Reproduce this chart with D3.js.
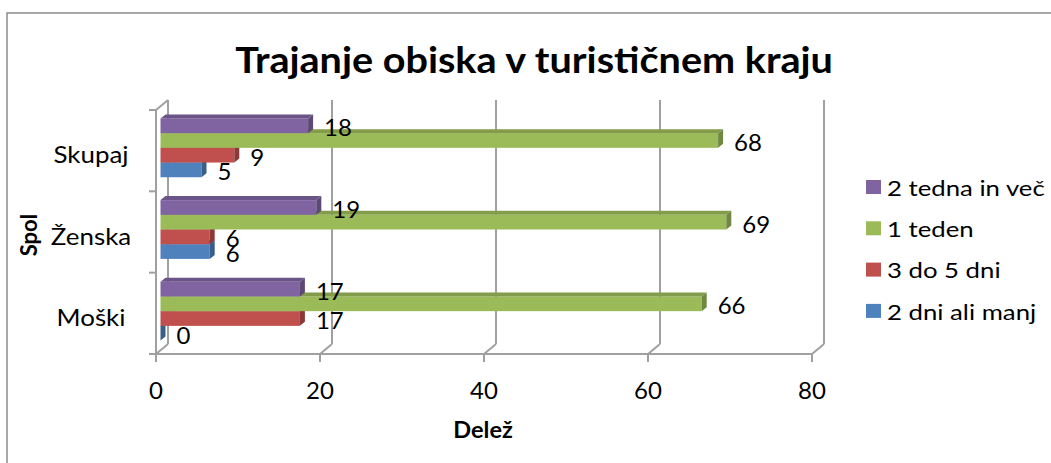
<!DOCTYPE html>
<html>
<head>
<meta charset="utf-8">
<script src="https://cdn.jsdelivr.net/npm/d3@7"></script>
<style>
body{margin:0;background:#fff;}
svg text{font-family:Lato, "Open Sans", sans-serif;fill:#000;}
</style>
</head>
<body>
<div id="chart"></div>
<script>
var categories = ["Skupaj", "Ženska", "Moški"];
var series = ["2 tedna in več", "1 teden", "3 do 5 dni", "2 dni ali manj"];
var tedna2 = [18, 19, 17];
var teden1 = [68, 69, 66];
var dni3do5 = [9, 6, 17];
var dni2 = [5, 6, 0];
var xTicks = [0, 20, 40, 60, 80];
var colors = ["#8064A2", "#9BBB59", "#C0504D", "#4F81BD"];

var data = categories.map(function(c, i){
  return {cat: c, values: [tedna2[i], teden1[i], dni3do5[i], dni2[i]]}
})

var width = 1051, height = 463;
var depth = {x: 12, y: -10};   // front -> back wall
var barDepth = {x: 5, y: -4};  // bar thickness
var barShift = 4.5;             // bars sit a bit behind the front plane

var svg = d3.select("#chart").append("svg")
  .attr("width", width)
  .attr("height", height)

// text is a little wider than Lato, stretch it horizontally
function place(x, y, sx){
  return "translate(" + x + "," + y + ") scale(" + sx + ",1)"
}

// chart frame
svg.append("rect")
  .attr("x", 7).attr("y", 13)
  .attr("width", 1100).attr("height", 500)
  .attr("fill", "none")
  .attr("stroke", "#8c8c8c")
  .attr("stroke-width", 1.5)

svg.append("text")
  .attr("transform", place(534, 73, 1.07))
  .attr("text-anchor", "middle")
  .style("font-size", "37px")
  .style("font-weight", "bold")
  .text("Trajanje obiska v turističnem kraju")

var x = d3.scaleLinear().domain([0, 80]).range([156, 812]);
var yFront = d3.scaleBand().domain(categories).range([110, 354]);
var yBar = d3.scaleBand().domain(categories).range([107, 352]).paddingInner(0.28).paddingOuter(0.14);
var ySub = d3.scaleBand().domain(series).range([0, yBar.bandwidth()]);
var color = d3.scaleOrdinal().domain(series).range(colors);

var grid = svg.append("g")
  .attr("stroke", "#a0a0a0")
  .attr("stroke-width", 2)
  .attr("fill", "none")

var yTop = yFront.range()[0], yBot = yFront.range()[1];

// back wall gridlines
grid.selectAll(".vline")
  .data(xTicks)
  .enter()
  .append("line")
  .attr("x1", function(d){return x(d) + depth.x})
  .attr("x2", function(d){return x(d) + depth.x})
  .attr("y1", yTop + depth.y)
  .attr("y2", yBot + depth.y)

// floor diagonals
grid.selectAll(".diag")
  .data(xTicks)
  .enter()
  .append("line")
  .attr("x1", function(d){return x(d)})
  .attr("x2", function(d){return x(d) + depth.x})
  .attr("y1", yBot)
  .attr("y2", yBot + depth.y)

// value axis ticks
grid.selectAll(".tick")
  .data(xTicks)
  .enter()
  .append("line")
  .attr("x1", function(d){return x(d)})
  .attr("x2", function(d){return x(d)})
  .attr("y1", yBot)
  .attr("y2", yBot + 8)

grid.append("line")
  .attr("x1", 149).attr("x2", x(80))
  .attr("y1", yBot).attr("y2", yBot)

// left wall front edge
grid.append("line")
  .attr("x1", x(0)).attr("x2", x(0))
  .attr("y1", yTop).attr("y2", yBot)
grid.append("line")
  .attr("x1", x(0)).attr("x2", x(0) + depth.x)
  .attr("y1", yTop).attr("y2", yTop + depth.y)

var edges = categories.map(function(c){return yFront(c)}).concat([yBot]);
grid.selectAll(".ctick")
  .data(edges)
  .enter()
  .append("line")
  .attr("x1", x(0) - 7).attr("x2", x(0))
  .attr("y1", function(d){return d})
  .attr("y2", function(d){return d})

// bars, drawn bottom series first so upper bars hide the tops below
var bars = [];
data.forEach(function(d){
  for (var i = series.length - 1; i >= 0; i--) {
    bars.push({cat: d.cat, s: series[i], v: d.values[i]})
  }
})

var bx = function(v){return x(v) + barShift};

var barG = svg.selectAll(".bar")
  .data(bars)
  .enter()
  .append("g")
  .attr("class", "bar")

barG.append("rect")
  .attr("x", bx(0))
  .attr("y", function(d){return yBar(d.cat) + ySub(d.s)})
  .attr("width", function(d){return bx(d.v) - bx(0)})
  .attr("height", ySub.bandwidth())
  .attr("fill", function(d){return color(d.s)})

barG.append("polygon")
  .attr("points", function(d){
    var x1 = bx(d.v), y0 = yBar(d.cat) + ySub(d.s), h = ySub.bandwidth();
    return [[x1, y0], [x1 + barDepth.x, y0 + barDepth.y], [x1 + barDepth.x, y0 + h + barDepth.y], [x1, y0 + h]].join(" ")
  })
  .attr("fill", function(d){return d3.color(color(d.s)).darker(0.9)})

barG.append("polygon")
  .attr("points", function(d){
    var x0 = bx(0), x1 = bx(d.v), y0 = yBar(d.cat) + ySub(d.s);
    return [[x0, y0], [x0 + barDepth.x, y0 + barDepth.y], [x1 + barDepth.x, y0 + barDepth.y], [x1, y0]].join(" ")
  })
  .attr("fill", function(d){return d3.color(color(d.s)).darker(0.5)})

// data labels
svg.selectAll(".lbl")
  .data(bars)
  .enter()
  .append("text")
  .attr("x", function(d){return bx(d.v) + 16})
  .attr("y", function(d){return yBar(d.cat) + ySub(d.s) + ySub.bandwidth() / 2 + 1})
  .attr("dominant-baseline", "central")
  .style("font-size", "24px")
  .text(function(d){return d.v})

// axis labels
svg.selectAll(".xl")
  .data(xTicks)
  .enter()
  .append("text")
  .attr("x", function(d){return x(d)})
  .attr("y", 389)
  .attr("text-anchor", "middle")
  .attr("dominant-baseline", "central")
  .style("font-size", "24px")
  .text(function(d){return d})

svg.selectAll(".cl")
  .data(categories)
  .enter()
  .append("text")
  .attr("transform", function(d){return place(91, yFront(d) + yFront.bandwidth() / 2 + 3, 1.08)})
  .attr("text-anchor", "middle")
  .attr("dominant-baseline", "central")
  .style("font-size", "24px")
  .text(function(d){return d})

svg.append("text")
  .attr("transform", "translate(28,235) rotate(-90)")
  .attr("text-anchor", "middle")
  .attr("dominant-baseline", "central")
  .style("font-size", "22px")
  .style("font-weight", "bold")
  .text("Spol")

svg.append("text")
  .attr("transform", place(483, 430, 1.07))
  .attr("text-anchor", "middle")
  .attr("dominant-baseline", "central")
  .style("font-size", "22px")
  .style("font-weight", "bold")
  .text("Delež")

// legend
var legend = svg.selectAll(".leg")
  .data(series)
  .enter()
  .append("g")
  .attr("transform", function(d, i){return "translate(866," + (187 + i * 41.3) + ")"})

legend.append("rect")
  .attr("x", 0).attr("y", -7)
  .attr("width", 15).attr("height", 14)
  .attr("fill", function(d){return color(d)})

legend.append("text")
  .attr("transform", place(21, 0, 1.17))
  .attr("dominant-baseline", "central")
  .style("font-size", "22px")
  .text(function(d){return d})
</script>
</body>
</html>
